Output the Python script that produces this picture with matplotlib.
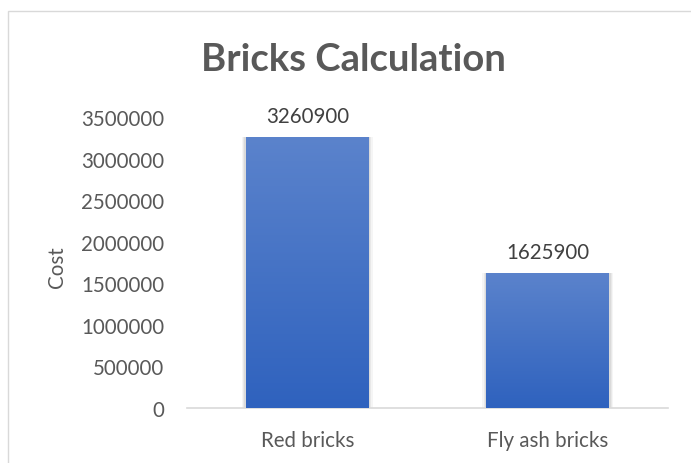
import matplotlib
matplotlib.use("Agg")
import matplotlib.pyplot as plt
import numpy as np
from matplotlib.patches import Rectangle
from matplotlib.colors import LinearSegmentedColormap

categories = ["Red bricks", "Fly ash bricks"]
costs = [3260900, 1625900]
yticks = [0, 500000, 1000000, 1500000, 2000000, 2500000, 3000000, 3500000]

W, H = 691, 464
fig = plt.figure(figsize=(W/100, H/100), dpi=100)
plt.rcParams['font.family'] = ['Lato', 'DejaVu Sans']
grey = "#595959"
fs = 14.8

# chart border
fig.patches.append(Rectangle((8/W, -0.1), 1.2, 1.1 - 12/H, transform=fig.transFigure,
                             fill=False, edgecolor="#D9D9D9", linewidth=1.0))

ax = fig.add_axes([187/W, 1 - 409/H, (668-187)/W, (409-118)/H])
x = np.arange(len(categories))
bars = ax.bar(x, costs, width=0.51, color="#3A68C4", zorder=2)

cmap = LinearSegmentedColormap.from_list("g", ["#2F62BE", "#5B83CC"])
grad = np.linspace(0, 1, 256).reshape(-1, 1)
for b in bars:
    x0, y0 = b.get_x(), b.get_y()
    w, h = b.get_width(), b.get_height()
    # soft shadow
    for i, a in enumerate([0.06, 0.05, 0.04]):
        ax.add_patch(Rectangle((x0 - 0.006*(i+1), y0 - 15000*(i+1)), w + 0.012*(i+1), h + 15000*(i+1),
                               facecolor="black", alpha=a, edgecolor="none", zorder=1))
    im = ax.imshow(grad, extent=[x0, x0 + w, y0, y0 + h], origin="lower", aspect="auto",
                   cmap=cmap, zorder=3)
    im.set_clip_path(b)

ax.set_xlim(-0.5, 1.5)
ax.set_ylim(0, 3500000)
ax.set_yticks(yticks)
ax.set_yticklabels([str(v) for v in yticks], fontsize=fs, color=grey)
ax.set_xticks(x)
ax.set_xticklabels(categories, fontsize=fs, color=grey)
ax.tick_params(axis="both", length=0)
ax.tick_params(axis="y", pad=16.5)
ax.tick_params(axis="x", pad=16)
for s in ["top", "right", "left"]:
    ax.spines[s].set_visible(False)
ax.spines["bottom"].set_color("#D9D9D9")
ax.spines["bottom"].set_linewidth(1.2)
ax.set_facecolor("none")

for xi, v in zip(x, costs):
    ax.annotate(str(v), (xi, v), xytext=(0, 11), textcoords="offset points",
                ha="center", va="baseline", fontsize=fs, color="#404040")

fig.text(57/W, 1 - 267/H, "Cost", rotation=90, ha="center", va="center", fontsize=fs, color=grey)
fig.text(353/W, 1 - 60/H, "Bricks Calculation", ha="center", va="center", fontsize=27.5,
         fontweight="bold", color=grey)

fig.savefig("out.png", dpi=100)
